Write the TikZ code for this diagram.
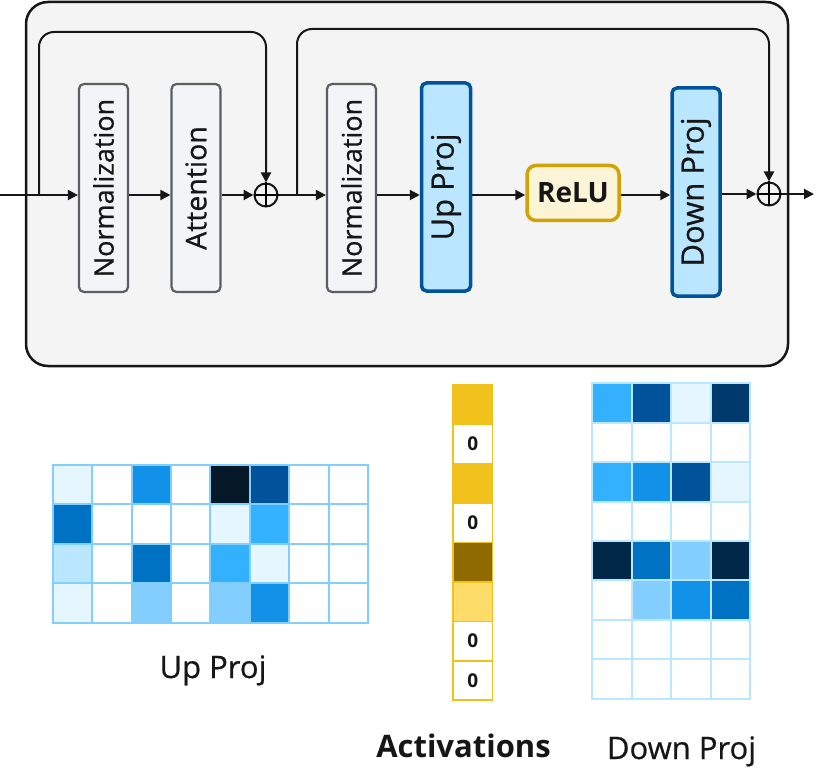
\documentclass[tikz,border=0pt]{standalone}
\usepackage{fontspec}
\setmainfont{Open Sans}[FakeBold=0.6,BoldFont={Open Sans Bold},BoldFeatures={FakeBold=0}]
\usepackage{graphicx}
\usetikzlibrary{arrows.meta}

\definecolor{ink}{HTML}{161616}
\definecolor{panel}{HTML}{F4F4F4}
\definecolor{boxfill}{HTML}{F2F4F8}
\definecolor{boxline}{HTML}{5A5E63}
\definecolor{cy10}{HTML}{E5F6FF}
\definecolor{cy20}{HTML}{BAE6FF}
\definecolor{cy30}{HTML}{82CFFF}
\definecolor{cy40}{HTML}{33B1FF}
\definecolor{cy50}{HTML}{1192E8}
\definecolor{cy60}{HTML}{0072C3}
\definecolor{cy70}{HTML}{00539A}
\definecolor{cy80}{HTML}{003A6D}
\definecolor{cy90}{HTML}{012749}
\definecolor{cy100}{HTML}{061727}
\definecolor{yl10}{HTML}{FCF4D6}
\definecolor{yl20}{HTML}{FDDC69}
\definecolor{yl30}{HTML}{F1C21B}
\definecolor{yl40}{HTML}{D2A106}
\definecolor{yl70}{HTML}{8E6A00}

\begin{document}
\begin{tikzpicture}
  [x=1pt,y=-1pt,
    every node/.style={font=\fontsize{31}{34}\selectfont,text=ink},
    block/.style={draw=boxline,fill=boxfill,line width=2.2pt,rounded corners=5pt,
      minimum width=49pt,minimum height=208pt,inner sep=0pt},
    proj/.style={block,draw=cy70,fill=cy20,line width=3.5pt},
    gate/.style={draw=yl40,fill=yl10,line width=3.5pt,rounded corners=9pt,
      minimum width=92pt,minimum height=55pt,inner sep=0pt,font=\bfseries\fontsize{28}{32}\selectfont},
    add/.style={draw=ink,circle,line width=2pt,minimum size=23pt,inner sep=0pt},
    flow/.style={draw=ink,line width=2pt,-{Triangle[length=10pt,width=10pt]}},
    skip/.style={flow,rounded corners=15pt},
    ucell/.style={draw=cy30,line width=2pt,minimum size=39.4pt,inner sep=0pt},
    dcell/.style={ucell,draw=cy20},
    acell/.style={draw=yl30,line width=1.5pt,minimum size=39.4pt,inner sep=0pt,
      font=\bfseries\fontsize{19}{21}\selectfont},
  ]
  \useasboundingbox (0,0) rectangle (830,778);

  % transformer layer
  \draw[draw=ink,fill=panel,line width=2.5pt,rounded corners=22pt] (26,2) rectangle (788,366);

  \node[block,font=\fontsize{27}{30}\selectfont] (norm1) at (103.5,188) {\rotatebox{90}{Normalization}};
  \node[block,font=\fontsize{28.5}{30}\selectfont] (attn) at (196,188) {\rotatebox{90}{Attention}};
  \node[add] (plus1) at (266,195) {};
  \node[block,font=\fontsize{27}{30}\selectfont] (norm2) at (351.5,188) {\rotatebox{90}{Normalization}};
  \node[proj] (up) at (446,187) {\rotatebox{90}{Up Proj}};
  \node[gate] (relu) at (573,193) {ReLU};
  \node[proj,minimum width=48pt] (down) at (696,192) {\rotatebox{90}{Down Proj}};
  \node[add] (plus2) at (769,194) {};
  \draw[line width=2pt] (plus1.north) -- (plus1.south) (plus1.west) -- (plus1.east);
  \draw[line width=2pt] (plus2.north) -- (plus2.south) (plus2.west) -- (plus2.east);

  \coordinate (in) at (0,195);
  \coordinate (out) at (814,194);
  \coordinate (fork1) at (39,195);
  \coordinate (fork2) at (297,195);
  \coordinate (top1) at (150,32);
  \coordinate (top2) at (500,29);

  \draw[flow] (in) -- (norm1.west |- in);
  \draw[flow] (norm1.east |- in) -- (attn.west |- in);
  \draw[flow] (attn.east |- in) -- (plus1.west);
  \draw[flow] (plus1.east) -- (norm2.west |- in);
  \draw[flow] (norm2.east |- in) -- (up.west |- in);
  \draw[flow] (up.east |- in) -- (relu.west |- in);
  \draw[flow] (relu.east |- in) -- (down.west |- in);
  \draw[flow] (down.east |- plus2) -- (plus2.west);
  \draw[flow] (plus2.east) -- (out);
  \draw[skip] (fork1) |- (top1) -| (plus1.north);
  \draw[skip] (fork2) |- (top2) -| (plus2.north);

  % up projection weights
  \foreach \row [count=\r] in {{cy10,white,cy50,white,cy100,cy70,white,white},
      {cy60,white,white,white,cy10,cy40,white,white},
      {cy20,white,cy60,white,cy40,cy10,white,white},
      {cy10,white,cy30,white,cy30,cy50,white,white}}
    \foreach \c [count=\k] in \row
      \node[ucell,fill=\c] (u-\r-\k) at ({52.7+39.4*(\k-0.5)},{465+39.4*(\r-0.5)}) {};
  \node[anchor=base] (ulab) at (213,678) {Up Proj};

  % activations
  \foreach \c/\v [count=\r] in {yl30/{},white/0,yl30/{},white/0,yl70/{},yl20/{},white/0,white/0}
    \node[acell,fill=\c] (a-\r) at (472.7,{385+39.4*(\r-0.5)}) {\v};
  \node[anchor=base,font=\bfseries\fontsize{31}{34}\selectfont] (alab) at (463.5,757) {Activations};

  % down projection weights
  \foreach \row [count=\r] in {{cy40,cy70,cy10,cy80},{white,white,white,white},
      {cy40,cy50,cy70,cy10},{white,white,white,white},
      {cy90,cy60,cy30,cy90},{white,cy30,cy50,cy60},
      {white,white,white,white},{white,white,white,white}}
    \foreach \c [count=\k] in \row
      \node[dcell,fill=\c] (d-\r-\k) at ({592.3+39.4*(\k-0.5)},{383.3+39.4*(\r-0.5)}) {};
  \node[anchor=base] (dlab) at (681.5,759) {Down Proj};
\end{tikzpicture}
\end{document}
